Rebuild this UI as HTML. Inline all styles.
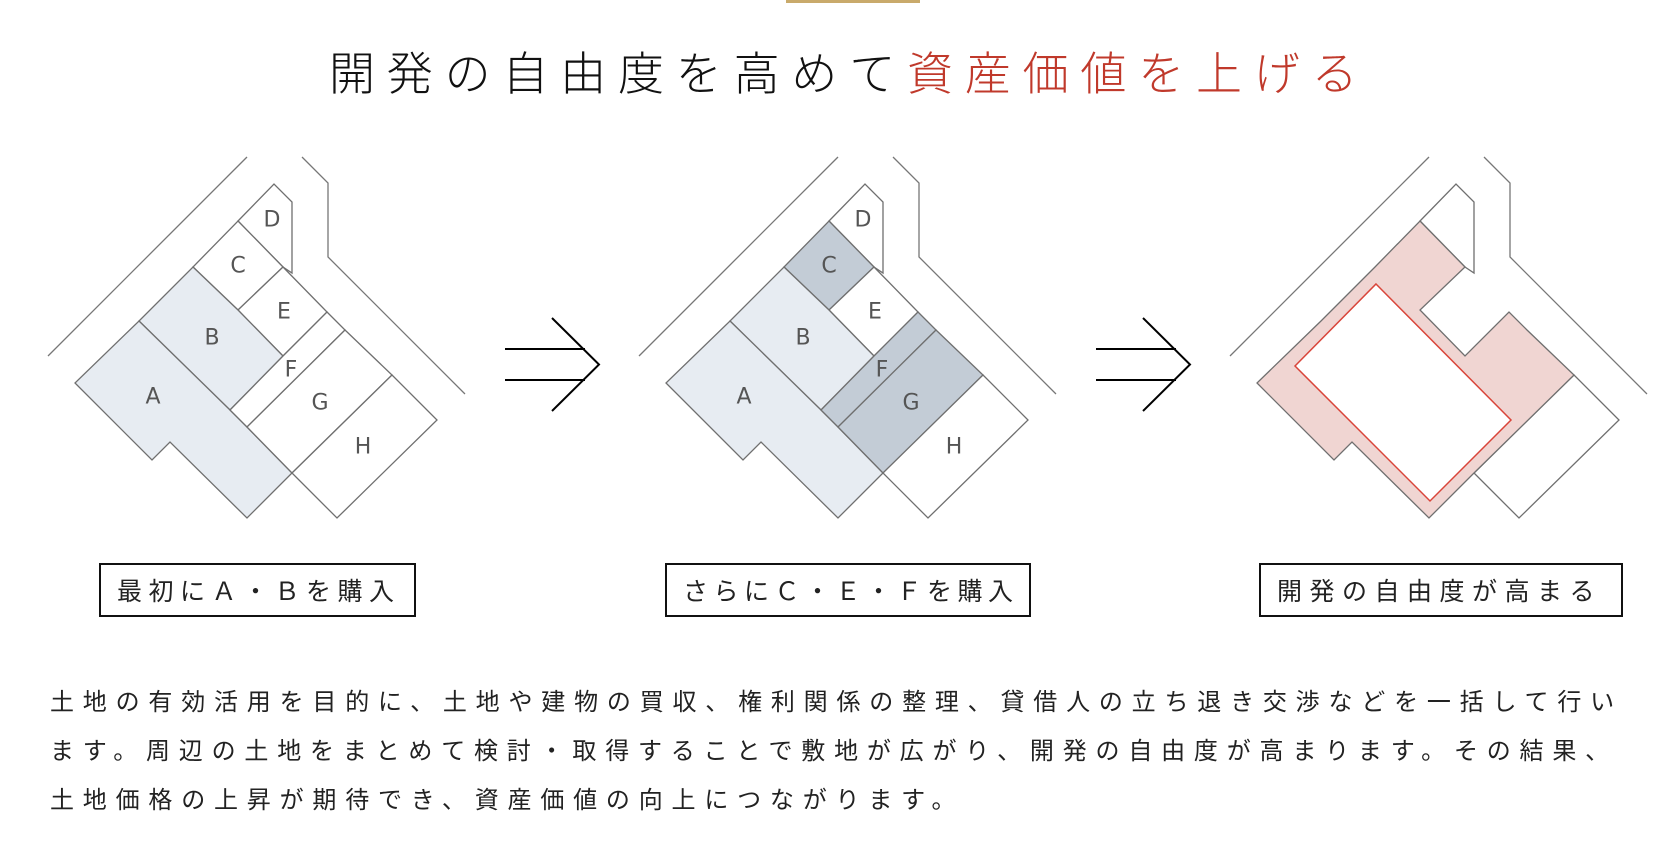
<!DOCTYPE html>
<html><head><meta charset="utf-8"><style>
html,body{margin:0;padding:0;background:#fff;width:1668px;height:852px;overflow:hidden;position:relative;font-family:"Liberation Sans","Noto Sans CJK JP",sans-serif;}
.bar{position:absolute;left:786px;top:0;width:134px;height:3px;background:#c9aa6b;}
.title{position:absolute;left:329px;top:40px;font-size:46px;letter-spacing:11.8px;line-height:62px;white-space:nowrap;color:#111;font-weight:300;font-family:"Noto Sans CJK JP",sans-serif;}
.title span{color:#c0392b;}
.box{position:absolute;top:563px;height:50px;border:2px solid #111;box-sizing:content-box;font-family:"Noto Sans CJK JP",sans-serif;font-size:25px;line-height:50px;letter-spacing:6.5px;color:#222;white-space:nowrap;padding-left:16px;}
.para{position:absolute;left:50px;top:675px;font-family:"Noto Sans CJK JP",sans-serif;font-size:24px;line-height:49px;letter-spacing:8.8px;color:#222;white-space:nowrap;}
svg{position:absolute;left:0;top:0;}
.lbl{font-family:"DejaVu Sans","Liberation Sans",sans-serif;font-size:22px;fill:#555;text-anchor:middle;dominant-baseline:central;}
</style></head><body>
<div class="bar"></div>
<div class="title">開発の自由度を高めて<span>資産価値を上げる</span></div>
<svg width="1668" height="852" viewBox="0 0 1668 852">
<defs>
<g id="roads" fill="none" stroke="#777" stroke-width="1.3">
<path d="M247,157 L48,356"/>
<path d="M302,157 L328,183 L328,257 L465,394"/>
</g>
</defs>
<g stroke="#6f6f6f" stroke-width="1.3" stroke-linejoin="miter">
<use href="#roads"/>
<polygon points="238,221 274,184 292,202 292,273 283,267" fill="#fff"/>
<polygon points="238,221 283,267 238,310 193,267" fill="#fff"/>
<polygon points="283,267 327,312 283,356 238,310" fill="#fff"/>
<polygon points="193,267 238,310 283,356 230,410 139,321" fill="#e7ecf2"/>
<polygon points="139,321 230,410 247,427 292,473 247,518 170,442 152,460 75,383" fill="#e7ecf2"/>
<polygon points="327,312 345,330 247,427 230,410 283,356" fill="#fff"/>
<polygon points="345,330 392,375 292,473 247,427" fill="#fff"/>
<polygon points="392,375 437,420 337,518 292,473" fill="#fff"/>
</g>
<g>
<text class="lbl" x="272" y="220">D</text><text class="lbl" x="238" y="266">C</text><text class="lbl" x="284" y="312">E</text><text class="lbl" x="212" y="338">B</text><text class="lbl" x="291" y="370">F</text><text class="lbl" x="153" y="397">A</text><text class="lbl" x="320" y="403">G</text><text class="lbl" x="363" y="447">H</text>
</g>
<g stroke="#000" stroke-width="2" fill="none">
<path d="M505,349 L585,349 M505,380 L585,380 M552,318 L599,364.5 L552,411"/>
</g>
<g transform="translate(591,0)">
<g stroke="#6f6f6f" stroke-width="1.3">
<use href="#roads"/>
<polygon points="238,221 274,184 292,202 292,273 283,267" fill="#fff"/>
<polygon points="238,221 283,267 238,310 193,267" fill="#c3ccd6"/>
<polygon points="283,267 327,312 283,356 238,310" fill="#fff"/>
<polygon points="193,267 238,310 283,356 230,410 139,321" fill="#e7ecf2"/>
<polygon points="139,321 230,410 247,427 292,473 247,518 170,442 152,460 75,383" fill="#e7ecf2"/>
<polygon points="327,312 345,330 247,427 230,410 283,356" fill="#c3ccd6"/>
<polygon points="345,330 392,375 292,473 247,427" fill="#c3ccd6"/>
<polygon points="392,375 437,420 337,518 292,473" fill="#fff"/>
</g>
<text class="lbl" x="272" y="220">D</text><text class="lbl" x="238" y="266">C</text><text class="lbl" x="284" y="312">E</text><text class="lbl" x="212" y="338">B</text><text class="lbl" x="291" y="370">F</text><text class="lbl" x="153" y="397">A</text><text class="lbl" x="320" y="403">G</text><text class="lbl" x="363" y="447">H</text>
</g>
<g stroke="#000" stroke-width="2" fill="none" transform="translate(591,0)">
<path d="M505,349 L585,349 M505,380 L585,380 M552,318 L599,364.5 L552,411"/>
</g>
<g transform="translate(1182,0)">
<g stroke="#6f6f6f" stroke-width="1.3">
<use href="#roads"/>
<polygon points="238,221 274,184 292,202 292,273 283,267" fill="#fff"/>
<polygon points="392,375 437,420 337,518 292,473" fill="#fff"/>
<polygon points="238,221 283,267 238,310 283,356 327,312 345,330 392,375 292,473 247,518 170,442 152,460 75,383 139,321 193,267" fill="#f0d5d2"/>
</g>
<polygon points="194,284 329,420 248,501 113,366" fill="#fff" stroke="#d9453a" stroke-width="1.5"/>
</g>
</svg>
<div class="box" style="left:99px;width:297px;">最初にＡ・Ｂを購入</div>
<div class="box" style="left:665px;width:346px;letter-spacing:5.5px;">さらにＣ・Ｅ・Ｆを購入</div>
<div class="box" style="left:1259px;width:344px;letter-spacing:7.5px;">開発の自由度が高まる</div>
<div class="para">土地の有効活用を目的に、土地や建物の買収、権利関係の整理、貸借人の立ち退き交渉などを一括して行い<br>ます。周辺の土地をまとめて検討・取得することで敷地が広がり、開発の自由度が高まります。その結果、<br>土地価格の上昇が期待でき、資産価値の向上につながります。</div>
</body></html>
